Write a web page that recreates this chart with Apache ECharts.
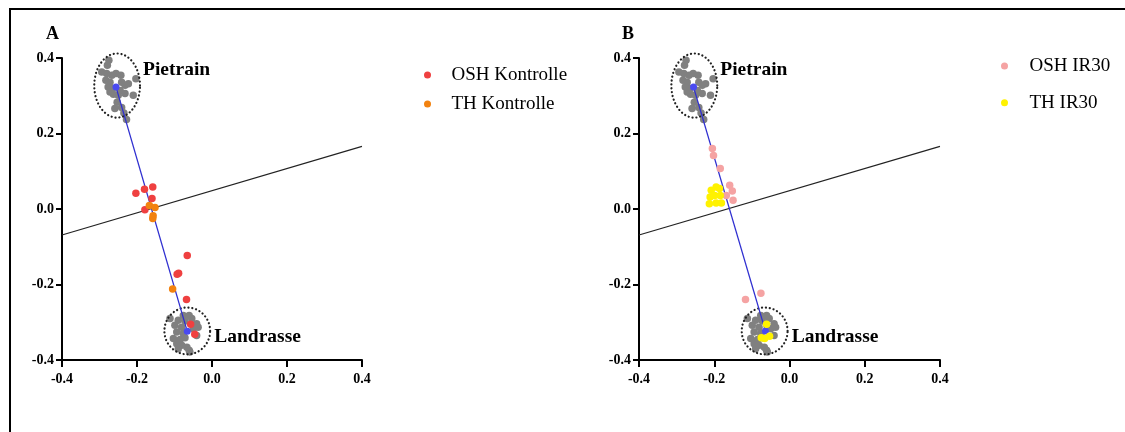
<!DOCTYPE html>
<html><head><meta charset="utf-8">
<script src="https://cdn.jsdelivr.net/npm/echarts@6/dist/echarts.min.js"></script>
<style>html,body{margin:0;padding:0;background:#fff}#c{width:1125px;height:432px}</style>
</head><body><div id="c"></div>
<script>
// ---- data ----
const axisMin = -0.4, axisMax = 0.4, axisStep = 0.2;
const refPietrain = [[-0.275,0.394],[-0.279,0.381],[-0.294,0.363],[-0.281,0.359],[-0.267,0.354],[-0.256,0.359],[-0.243,0.354],[-0.203,0.345],[-0.283,0.341],[-0.272,0.336],[-0.241,0.336],[-0.223,0.332],[-0.232,0.328],[-0.277,0.323],[-0.265,0.319],[-0.245,0.314],[-0.272,0.310],[-0.263,0.304],[-0.250,0.301],[-0.232,0.306],[-0.210,0.301],[-0.253,0.283],[-0.259,0.266],[-0.241,0.269],[-0.235,0.254],[-0.228,0.237]];
const refLandrasse = [[-0.0765,-0.282],[-0.061,-0.282],[-0.112,-0.290],[-0.090,-0.295],[-0.072,-0.297],[-0.054,-0.290],[-0.041,-0.304],[-0.099,-0.308],[-0.081,-0.313],[-0.050,-0.317],[-0.037,-0.313],[-0.094,-0.326],[-0.0765,-0.330],[-0.041,-0.335],[-0.103,-0.343],[-0.085,-0.346],[-0.072,-0.341],[-0.094,-0.357],[-0.081,-0.361],[-0.067,-0.366],[-0.090,-0.370],[-0.061,-0.374],[-0.059,-0.379]];
const oshKontrolle = [[-0.203,0.042],[-0.180,0.052],[-0.158,0.058],[-0.160,0.028],[-0.179,-0.002],[-0.066,-0.123],[-0.093,-0.173],[-0.089,-0.170],[-0.068,-0.240],[-0.057,-0.305],[-0.046,-0.332]];
const thKontrolle = [[-0.167,0.009],[-0.152,0.004],[-0.157,-0.018],[-0.158,-0.025],[-0.105,-0.212]];
const oshIR30 = [[-0.205,0.160],[-0.202,0.142],[-0.184,0.107],[-0.159,0.063],[-0.152,0.048],[-0.168,0.036],[-0.150,0.023],[-0.117,-0.240],[-0.076,-0.223]];
const thIR30 = [[-0.208,0.050],[-0.195,0.058],[-0.186,0.054],[-0.211,0.032],[-0.199,0.036],[-0.184,0.036],[-0.213,0.014],[-0.195,0.016],[-0.181,0.016],[-0.061,-0.305],[-0.075,-0.341],[-0.053,-0.337],[-0.066,-0.343]];
const centroidsA = [[-0.256,0.323],[-0.066,-0.324]];
const centroidsB = [[-0.255,0.323],[-0.064,-0.323]];
const separator = [[-0.4,-0.069],[0.4,0.166]];
const ellipses = [[-0.253,0.327,0.061,0.085],[-0.066,-0.323,0.061,0.062]];
const breedLabels = [{name:'Pietrain', value:[-0.184,0.367]},{name:'Landrasse', value:[0.006,-0.339]}];

// ---- chart ----
const serif = 'Liberation Serif';
const chart = echarts.init(document.getElementById('c'));
function xAx(gi){return {type:'value',gridIndex:gi,min:axisMin,max:axisMax,interval:axisStep,
  axisLine:{show:true,onZero:false,lineStyle:{color:'#000',width:2}},
  axisTick:{show:true,length:7,lineStyle:{color:'#000',width:2}},
  axisLabel:{margin:12,color:'#000',fontFamily:serif,fontWeight:'bold',fontSize:14,formatter:v=>v.toFixed(1)},
  splitLine:{show:false}};}
function yAx(gi){return {type:'value',gridIndex:gi,min:axisMin,max:axisMax,interval:axisStep,
  axisLine:{show:true,onZero:false,lineStyle:{color:'#000',width:2}},
  axisTick:{show:true,length:6,lineStyle:{color:'#000',width:2}},
  axisLabel:{margin:8,color:'#000',fontFamily:serif,fontWeight:'bold',fontSize:14,formatter:v=>v.toFixed(1)},
  splitLine:{show:false}};}
function ellipseSeries(gi){return {type:'custom',xAxisIndex:gi,yAxisIndex:gi,data:ellipses,z:3,silent:true,
  renderItem:function(params,api){
    const cx=api.value(0),cy=api.value(1),rx=api.value(2),ry=api.value(3);
    const pts=[];for(let i=0;i<=90;i++){const a=i/90*Math.PI*2;pts.push(api.coord([cx+rx*Math.cos(a),cy+ry*Math.sin(a)]));}
    return {type:'polyline',shape:{points:pts},style:{fill:'none',stroke:'#222',lineWidth:2.2,lineDash:[0.1,3.8],lineCap:'round'}};
  }};}
function common(gi,cent){return [
  {type:'scatter',xAxisIndex:gi,yAxisIndex:gi,data:refPietrain.concat(refLandrasse),symbolSize:7.5,itemStyle:{color:'#808080',opacity:1},z:2,silent:true},
  ellipseSeries(gi),
  {type:'line',xAxisIndex:gi,yAxisIndex:gi,data:separator,showSymbol:false,symbol:'none',lineStyle:{color:'#222',width:1.2},z:3,silent:true},
  {type:'line',xAxisIndex:gi,yAxisIndex:gi,data:cent,symbol:'circle',symbolSize:7,itemStyle:{color:'#4a4af0'},lineStyle:{color:'#2f2fd0',width:1.3},z:4,silent:true},
  {type:'scatter',xAxisIndex:gi,yAxisIndex:gi,data:breedLabels,symbolSize:0,z:6,silent:true,itemStyle:{opacity:1},
    label:{show:true,position:'right',distance:0,formatter:'{b}',color:'#000',opacity:1,textBorderWidth:0,fontFamily:serif,fontWeight:'bold',fontSize:19.5}}
];}
const legendText = {color:'#000',fontFamily:serif,fontSize:19,lineHeight:20};
chart.setOption({
  animation:false,
  title:[
    {text:'A',left:41,top:20,textStyle:{fontFamily:serif,fontWeight:'bold',fontSize:18,color:'#000'}},
    {text:'B',left:617,top:20,textStyle:{fontFamily:serif,fontWeight:'bold',fontSize:18,color:'#000'}}
  ],
  grid:[{left:62,top:58,width:300,height:302},{left:639,top:58,width:301,height:302}],
  xAxis:[xAx(0),xAx(1)],
  yAxis:[yAx(0),yAx(1)],
  legend:[
    {data:['OSH Kontrolle','TH Kontrolle'],orient:'vertical',left:419,top:60,icon:'circle',itemWidth:38,itemHeight:7,itemGap:9,textStyle:legendText,selectedMode:false},
    {data:['OSH IR30','TH IR30'],orient:'vertical',left:996,top:51,icon:'circle',itemWidth:40,itemHeight:7,itemGap:16.7,textStyle:legendText,selectedMode:false}
  ],
  graphic:[{type:'rect',shape:{x:10,y:9,width:1200,height:500},style:{fill:'none',stroke:'#000',lineWidth:2},z:-1}],
  series:[].concat(common(0,centroidsA),common(1,centroidsB),[
    {name:'OSH Kontrolle',type:'scatter',xAxisIndex:0,yAxisIndex:0,data:oshKontrolle,symbolSize:7.5,itemStyle:{color:'#ef4040',opacity:1},z:5},
    {name:'TH Kontrolle',type:'scatter',xAxisIndex:0,yAxisIndex:0,data:thKontrolle,symbolSize:7.5,itemStyle:{color:'#f2820f',opacity:1},z:5},
    {name:'OSH IR30',type:'scatter',xAxisIndex:1,yAxisIndex:1,data:oshIR30,symbolSize:7.5,itemStyle:{color:'#f5a3a3',opacity:1},z:5},
    {name:'TH IR30',type:'scatter',xAxisIndex:1,yAxisIndex:1,data:thIR30,symbolSize:7.5,itemStyle:{color:'#fff200',opacity:1},z:5}
  ])
});
</script></body></html>
